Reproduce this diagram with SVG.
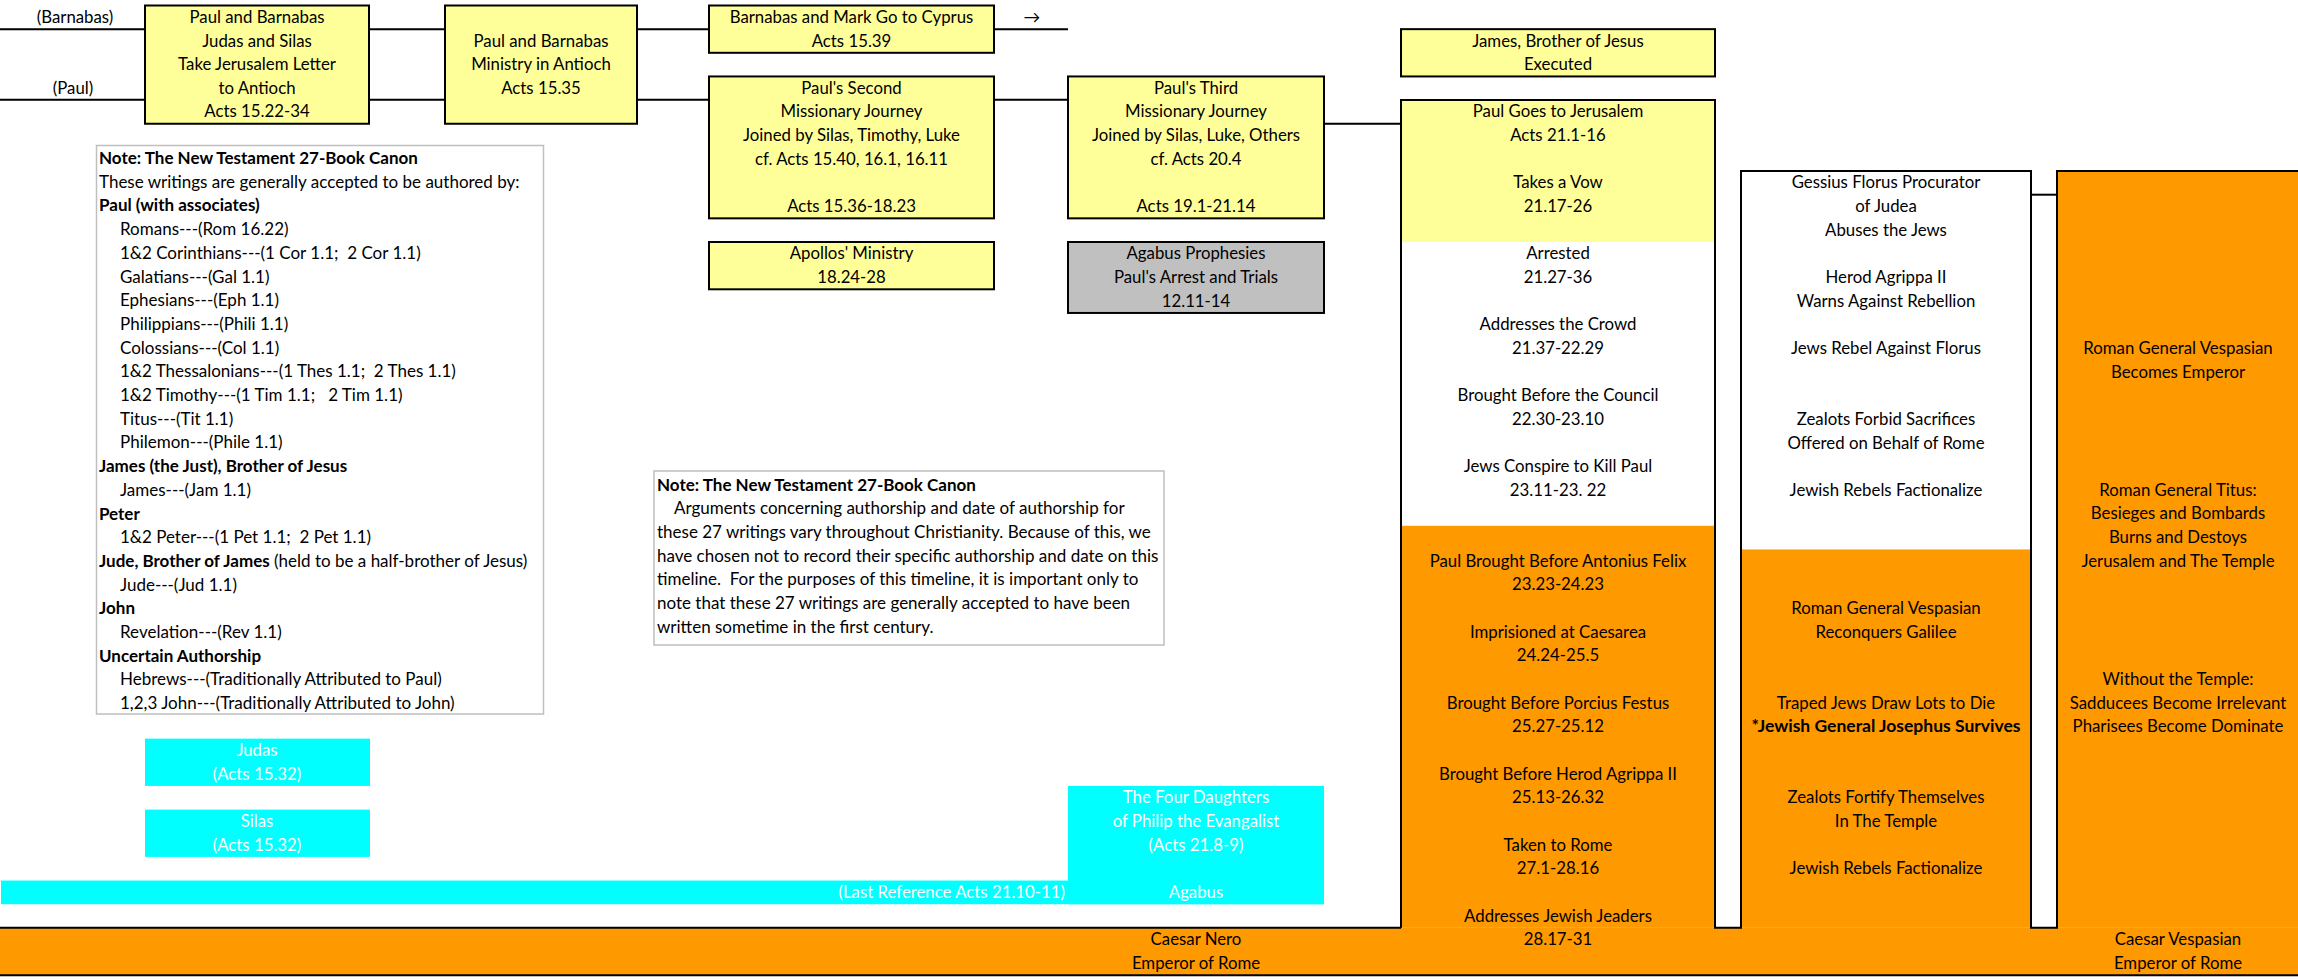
<svg xmlns="http://www.w3.org/2000/svg" width="2298" height="980" viewBox="0 0 2298 980">
  <style>
    text { font-family: Lato, "Liberation Sans", sans-serif; font-size: 16.8px; fill: #000; }
    .c { text-anchor: middle; }
    .b { font-weight: bold; font-size: 17.5px; }
    .w { fill: #ffffff; }
    .box { stroke: #000; stroke-width: 2; }
    .yel { fill: #ffff99; }
    .gry { fill: #c0c0c0; }
    .org { fill: #ff9900; }
    .cyn { fill: #00ffff; }
    .wht { fill: #ffffff; }
    .note { fill: #ffffff; stroke: #bfbfbf; stroke-width: 1.5; }
    .nt text { font-size: 17px; }
    .nt text.b, .nt tspan.b { font-size: 17px; }
    .ln { fill: none; stroke: #000; stroke-width: 2; }
  </style>

  <!-- background -->
  <rect x="0" y="0" width="2298" height="980" fill="#ffffff"/>

  <!-- orange band along the bottom (Roman emperors) -->
  <g id="nero-bar">
    <rect class="org" x="0" y="927.85" width="2298" height="47.3"/>
    <text class="c" x="1196" y="945.1">Caesar Nero</text>
    <text class="c" x="1196" y="968.8">Emperor of Rome</text>
  </g>

  <!-- track labels -->
  <g id="label-barnabas"><text class="c" x="75" y="22.8">(Barnabas)</text></g>
  <g id="label-paul"><text class="c" x="73" y="93.7">(Paul)</text></g>

  <g id="jerusalem-letter">
    <rect class="box yel" x="145" y="5.5" width="224" height="118.25"/>
    <text class="c" x="257" y="22.8">Paul and Barnabas</text>
    <text class="c" x="257" y="46.5">Judas and Silas</text>
    <text class="c" x="257" y="70.1">Take Jerusalem Letter</text>
    <text class="c" x="257" y="93.7">to Antioch</text>
    <text class="c" x="257" y="117.4">Acts 15.22-34</text>
  </g>

  <g id="antioch-ministry">
    <rect class="box yel" x="445" y="5.5" width="192" height="118.25"/>
    <text class="c" x="541" y="46.5">Paul and Barnabas</text>
    <text class="c" x="541" y="70.1">Ministry in Antioch</text>
    <text class="c" x="541" y="93.7">Acts 15.35</text>
  </g>

  <g id="cyprus">
    <rect class="box yel" x="709" y="5.5" width="285" height="47.3"/>
    <text class="c" x="851.5" y="22.8">Barnabas and Mark Go to Cyprus</text>
    <text class="c" x="851.5" y="46.5">Acts 15.39</text>
  </g>

  <g id="arrow-label"><text class="c" x="1032" y="22.8">→</text></g>

  <g id="second-journey">
    <rect class="box yel" x="709" y="76.45" width="285" height="141.9"/>
    <text class="c" x="851.5" y="93.7">Paul's Second</text>
    <text class="c" x="851.5" y="117.4">Missionary Journey</text>
    <text class="c" x="851.5" y="141">Joined by Silas, Timothy, Luke</text>
    <text class="c" x="851.5" y="164.7">cf. Acts 15.40, 16.1, 16.11</text>
    <text class="c" x="851.5" y="212">Acts 15.36-18.23</text>
  </g>

  <g id="third-journey">
    <rect class="box yel" x="1068" y="76.45" width="256" height="141.9"/>
    <text class="c" x="1196" y="93.7">Paul's Third</text>
    <text class="c" x="1196" y="117.4">Missionary Journey</text>
    <text class="c" x="1196" y="141">Joined by Silas, Luke, Others</text>
    <text class="c" x="1196" y="164.7">cf. Acts 20.4</text>
    <text class="c" x="1196" y="212">Acts 19.1-21.14</text>
  </g>

  <g id="apollos">
    <rect class="box yel" x="709" y="242" width="285" height="47.3"/>
    <text class="c" x="851.5" y="259.3">Apollos' Ministry</text>
    <text class="c" x="851.5" y="282.9">18.24-28</text>
  </g>

  <g id="agabus-prophesies">
    <rect class="box gry" x="1068" y="242" width="256" height="70.95"/>
    <text class="c" x="1196" y="259.3">Agabus Prophesies</text>
    <text class="c" x="1196" y="282.9">Paul's Arrest and Trials</text>
    <text class="c" x="1196" y="306.6">12.11-14</text>
  </g>

  <g id="james-executed">
    <rect class="box yel" x="1401" y="29.15" width="314" height="47.3"/>
    <text class="c" x="1558" y="46.5">James, Brother of Jesus</text>
    <text class="c" x="1558" y="70.1">Executed</text>
  </g>

  <!-- Paul in Jerusalem, Caesarea and Rome -->
  <g id="paul-column">
    <rect class="yel" x="1401" y="100.1" width="314" height="141.9"/>
    <rect class="wht" x="1401" y="242" width="314" height="283.8"/>
    <rect class="org" x="1401" y="525.8" width="314" height="402.05"/>
    <text class="c" x="1558" y="117.4">Paul Goes to Jerusalem</text>
    <text class="c" x="1558" y="141">Acts 21.1-16</text>
    <text class="c" x="1558" y="188.3">Takes a Vow</text>
    <text class="c" x="1558" y="212">21.17-26</text>
    <text class="c" x="1558" y="259.3">Arrested</text>
    <text class="c" x="1558" y="282.9">21.27-36</text>
    <text class="c" x="1558" y="330.2">Addresses the Crowd</text>
    <text class="c" x="1558" y="353.9">21.37-22.29</text>
    <text class="c" x="1558" y="401.2">Brought Before the Council</text>
    <text class="c" x="1558" y="424.8">22.30-23.10</text>
    <text class="c" x="1558" y="472.1">Jews Conspire to Kill Paul</text>
    <text class="c" x="1558" y="495.8">23.11-23. 22</text>
    <text class="c" x="1558" y="566.7">Paul Brought Before Antonius Felix</text>
    <text class="c" x="1558" y="590.4">23.23-24.23</text>
    <text class="c" x="1558" y="637.7">Imprisioned at Caesarea</text>
    <text class="c" x="1558" y="661.3">24.24-25.5</text>
    <text class="c" x="1558" y="708.6">Brought Before Porcius Festus</text>
    <text class="c" x="1558" y="732.3">25.27-25.12</text>
    <text class="c" x="1558" y="779.6">Brought Before Herod Agrippa II</text>
    <text class="c" x="1558" y="803.2">25.13-26.32</text>
    <text class="c" x="1558" y="850.5">Taken to Rome</text>
    <text class="c" x="1558" y="874.2">27.1-28.16</text>
    <text class="c" x="1558" y="921.5">Addresses Jewish Jeaders</text>
    <text class="c" x="1558" y="945.1">28.17-31</text>
  </g>

  <!-- Judea under Florus and the revolt -->
  <g id="revolt-column">
    <rect class="wht" x="1741" y="171.05" width="290" height="378.4"/>
    <rect class="org" x="1741" y="549.45" width="290" height="378.4"/>
    <text class="c" x="1886" y="188.3">Gessius Florus Procurator</text>
    <text class="c" x="1886" y="212">of Judea</text>
    <text class="c" x="1886" y="235.6">Abuses the Jews</text>
    <text class="c" x="1886" y="282.9">Herod Agrippa II</text>
    <text class="c" x="1886" y="306.6">Warns Against Rebellion</text>
    <text class="c" x="1886" y="353.9">Jews Rebel Against Florus</text>
    <text class="c" x="1886" y="424.8">Zealots Forbid Sacrifices</text>
    <text class="c" x="1886" y="448.5">Offered on Behalf of Rome</text>
    <text class="c" x="1886" y="495.8">Jewish Rebels Factionalize</text>
    <text class="c" x="1886" y="614">Roman General Vespasian</text>
    <text class="c" x="1886" y="637.7">Reconquers Galilee</text>
    <text class="c" x="1886" y="708.6">Traped Jews Draw Lots to Die</text>
    <text class="c b" x="1886" y="732.3">*Jewish General Josephus Survives</text>
    <text class="c" x="1886" y="803.2">Zealots Fortify Themselves</text>
    <text class="c" x="1886" y="826.9">In The Temple</text>
    <text class="c" x="1886" y="874.2">Jewish Rebels Factionalize</text>
  </g>

  <!-- Vespasian, Titus and the fall of the Temple -->
  <g id="rome-column">
    <rect class="org" x="2057" y="171.05" width="241" height="756.8"/>
    <text class="c" x="2178" y="353.9">Roman General Vespasian</text>
    <text class="c" x="2178" y="377.5">Becomes Emperor</text>
    <text class="c" x="2178" y="495.8">Roman General Titus:</text>
    <text class="c" x="2178" y="519.4">Besieges and Bombards</text>
    <text class="c" x="2178" y="543.1">Burns and Destoys</text>
    <text class="c" x="2178" y="566.7">Jerusalem and The Temple</text>
    <text class="c" x="2178" y="685">Without the Temple:</text>
    <text class="c" x="2178" y="708.6">Sadducees Become Irrelevant</text>
    <text class="c" x="2178" y="732.3">Pharisees Become Dominate</text>
    <text class="c" x="2178" y="945.1">Caesar Vespasian</text>
    <text class="c" x="2178" y="968.8">Emperor of Rome</text>
  </g>

  <!-- outer borders of the three right-hand columns and the bottom band -->
  <g id="column-borders">
    <path class="ln" d="M1401,927.85 V100.1 H1715 V927.85 H1741 V171.05 H2031 V927.85 H2057 V171.05 H2298"/>
    <path class="ln" d="M0,927.85 H1401"/>
    <path class="ln" d="M0,975.15 H2298"/>
  </g>

  <!-- companions (cyan) -->
  <g id="judas">
    <rect class="cyn" x="145" y="738.65" width="225" height="47.3"/>
    <text class="c w" x="257" y="755.9">Judas</text>
    <text class="c w" x="257" y="779.6">(Acts 15.32)</text>
  </g>
  <g id="silas">
    <rect class="cyn" x="145" y="809.6" width="225" height="47.3"/>
    <text class="c w" x="257" y="826.9">Silas</text>
    <text class="c w" x="257" y="850.5">(Acts 15.32)</text>
  </g>
  <g id="agabus-bar">
    <rect class="cyn" x="1" y="880.55" width="1323" height="23.65"/>
    <rect class="cyn" x="1068" y="785.95" width="256" height="118.25"/>
    <text class="c w" x="1196" y="803.2">The Four Daughters</text>
    <text class="c w" x="1196" y="826.9">of Philip the Evangalist</text>
    <text class="c w" x="1196" y="850.5">(Acts 21.8-9)</text>
    <text class="c w" x="1196" y="897.8">Agabus</text>
    <text class="w" x="1065" y="897.8" text-anchor="end">(Last Reference Acts 21.10-11)</text>
  </g>

  <!-- timeline connectors -->
  <g id="connectors">
    <path class="ln" d="M0,29.15 H145 M369,29.15 H445 M637,29.15 H709 M994,29.15 H1068"/>
    <path class="ln" d="M0,99.8 H145 M369,99.8 H445 M637,99.8 H709 M994,99.8 H1068"/>
    <path class="ln" d="M1324,123.75 H1401"/>
    <path class="ln" d="M2031,194.7 H2057"/>
  </g>

  <!-- authorship note -->
  <g id="note-authors" class="nt">
    <rect class="note" x="96.5" y="145.5" width="447" height="568.5"/>
    <text class="b" x="99" y="164">Note: The New Testament 27-Book Canon</text>
    <text x="99" y="187.7">These writings are generally accepted to be authored by:</text>
    <text class="b" x="99" y="211.4">Paul (with associates)</text>
    <text x="120" y="235.1">Romans---(Rom 16.22)</text>
    <text x="120" y="258.8" xml:space="preserve">1&amp;2 Corinthians---(1 Cor 1.1;  2 Cor 1.1)</text>
    <text x="120" y="282.5">Galatians---(Gal 1.1)</text>
    <text x="120" y="306.2">Ephesians---(Eph 1.1)</text>
    <text x="120" y="329.9">Philippians---(Phili 1.1)</text>
    <text x="120" y="353.6">Colossians---(Col 1.1)</text>
    <text x="120" y="377.3" xml:space="preserve">1&amp;2 Thessalonians---(1 Thes 1.1;  2 Thes 1.1)</text>
    <text x="120" y="401" xml:space="preserve">1&amp;2 Timothy---(1 Tim 1.1;   2 Tim 1.1)</text>
    <text x="120" y="424.7">Titus---(Tit 1.1)</text>
    <text x="120" y="448.4">Philemon---(Phile 1.1)</text>
    <text class="b" x="99" y="472.1">James (the Just), Brother of Jesus</text>
    <text x="120" y="495.8">James---(Jam 1.1)</text>
    <text class="b" x="99" y="519.5">Peter</text>
    <text x="120" y="543.2" xml:space="preserve">1&amp;2 Peter---(1 Pet 1.1;  2 Pet 1.1)</text>
    <text x="99" y="566.9"><tspan class="b">Jude, Brother of James</tspan> (held to be a half-brother of Jesus)</text>
    <text x="120" y="590.6">Jude---(Jud 1.1)</text>
    <text class="b" x="99" y="614.3">John</text>
    <text x="120" y="638">Revelation---(Rev 1.1)</text>
    <text class="b" x="99" y="661.7">Uncertain Authorship</text>
    <text x="120" y="685.4">Hebrews---(Traditionally Attributed to Paul)</text>
    <text x="120" y="709.1">1,2,3 John---(Traditionally Attributed to John)</text>
  </g>

  <!-- dating note -->
  <g id="note-dating" class="nt">
    <rect class="note" x="654" y="471" width="510" height="174"/>
    <text class="b" x="657" y="490.5">Note: The New Testament 27-Book Canon</text>
    <text x="674" y="514.2">Arguments concerning authorship and date of authorship for</text>
    <text x="657" y="537.9">these 27 writings vary throughout Christianity. Because of this, we</text>
    <text x="657" y="561.6">have chosen not to record their specific authorship and date on this</text>
    <text x="657" y="585.3" xml:space="preserve">timeline.  For the purposes of this timeline, it is important only to</text>
    <text x="657" y="609">note that these 27 writings are generally accepted to have been</text>
    <text x="657" y="632.7">written sometime in the first century.</text>
  </g>
</svg>
